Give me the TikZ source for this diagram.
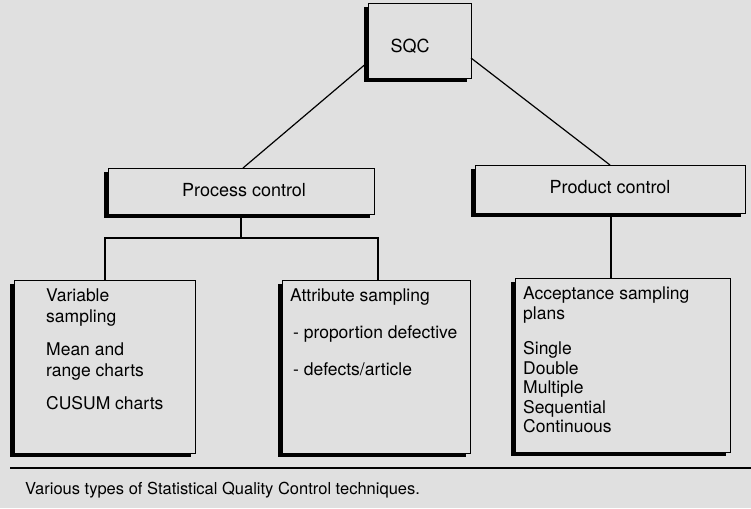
\documentclass[tikz,border=0pt]{standalone}
\usepackage{fontspec}
\setmainfont{TeX Gyre Heros}
\begin{document}
\begin{tikzpicture}[x=1pt,y=-1pt,
 box/.style={draw,line width=1pt,fill=bg,anchor=north west,inner sep=0pt},
 txt/.style={anchor=north west,align=left,font=\fontsize{17.5}{21}\selectfont,inner sep=0pt},
 ln/.style={line width=1.2pt}]
\definecolor{bg}{HTML}{E0E0E0}
\fill[bg] (0,0) rectangle (751,508);
\useasboundingbox (0,0) rectangle (751,508);
% shadows
\fill (364,7) rectangle (467,82);
\fill (104,172) rectangle (370,218);
\fill (471,169) rectangle (741,217);
\fill (10,284) rectangle (191,457);
\fill (278,284) rectangle (466,457);
\fill (511,282) rectangle (726,456);
\node[box,minimum width=103pt,minimum height=75pt] (sqc) at (368,3) {};
\node[font=\fontsize{18}{20}\selectfont] (sqct) at (410,46) {SQC};
\node[box,minimum width=266pt,minimum height=46pt] (pc) at (108,168) {};
\node[font=\fontsize{18}{20}\selectfont] (pct) at (244,190) {Process control};
\node[box,minimum width=270pt,minimum height=48pt] (prc) at (475,165) {};
\node[font=\fontsize{18}{20}\selectfont] (prct) at (610,187) {Product control};
\node[box,minimum width=181pt,minimum height=173pt] (var) at (14,280) {};
\node[txt] (vart) at (46,289) {Variable\\sampling\\[12pt]Mean and\\range charts\\[12pt]CUSUM charts};
\node[box,minimum width=188pt,minimum height=173pt] (att) at (282,280) {};
\node[txt] (attt) at (290,289) {Attribute sampling\\[16pt]\,- proportion defective\\[16pt]\,- defects/article};
\node[box,minimum width=215pt,minimum height=174pt] (acc) at (515,278) {};
\node[txt,font=\fontsize{17.5}{19.5}\selectfont] (acct) at (523,287) {Acceptance sampling\\plans\\[16pt]Single\\Double\\Multiple\\Sequential\\Continuous};
\coordinate (a1) at (368,62); \coordinate (a2) at (243,168);
\coordinate (b1) at (471,58); \coordinate (b2) at (610,165);
\draw[ln] (a1) -- (a2);
\draw[ln] (b1) -- (b2);
\coordinate (p1) at (241,214); \coordinate (p2) at (241,238);
\coordinate (h1) at (105,238); \coordinate (h2) at (378,238);
\coordinate (v1) at (105,280); \coordinate (v2) at (378,280);
\draw[ln] (p1) -- (p2);
\draw[ln] (v1) -- (h1) -- (h2) -- (v2);
\coordinate (q1) at (611,213); \coordinate (q2) at (611,278);
\draw[ln] (q1) -- (q2);
\coordinate (s1) at (10,468); \coordinate (s2) at (751,468);
\draw[ln] (s1) -- (s2);
\node[txt,font=\fontsize{16.5}{18}\selectfont] (cap) at (25,482) {Various types of Statistical Quality Control techniques.};
\end{tikzpicture}
\end{document}
